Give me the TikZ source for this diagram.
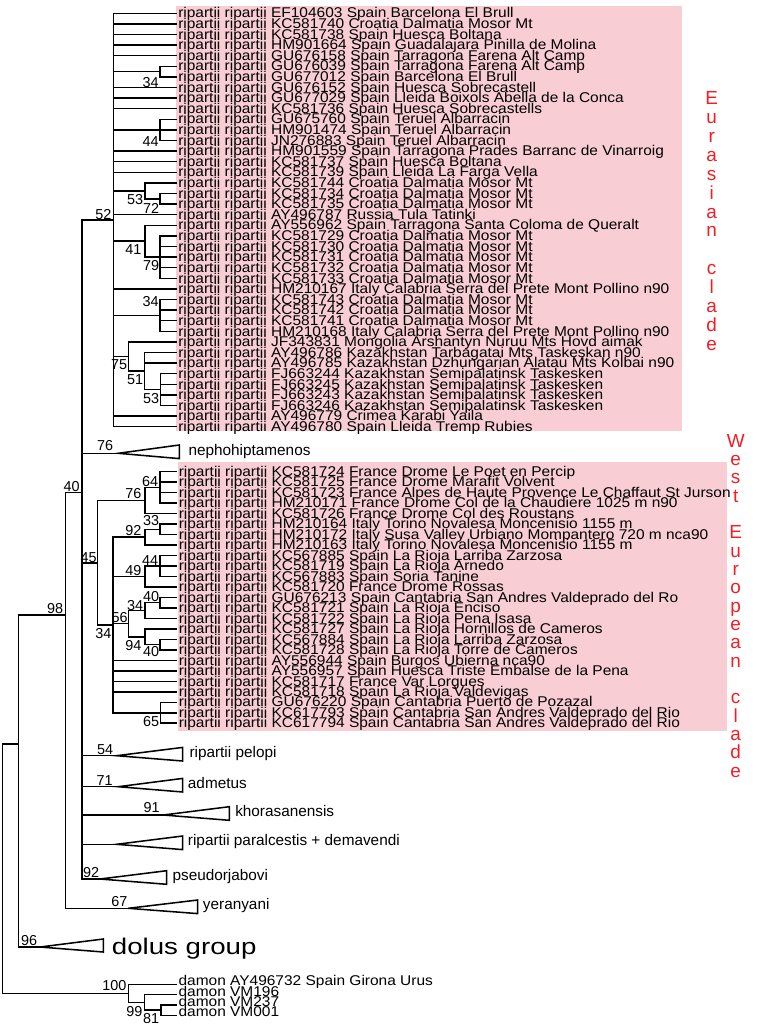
\documentclass[tikz,border=0pt]{standalone}
\usepackage{fontspec}
\setmainfont{Liberation Sans}
\usepackage{graphicx}
\definecolor{hl}{RGB}{248,205,211}
\definecolor{cladered}{RGB}{242,30,36}
\newcommand\tiptext[1]{\scalebox{1.095}[1]{ripartii ripartii #1}}
\newcommand\damtext[1]{\scalebox{1.095}[1]{damon #1}}
\begin{document}
\begin{tikzpicture}[x=0.75pt,y=-0.75pt,
  br/.style={line width=1.15pt, line cap=rect},
  tri/.style={line width=1.15pt, line join=miter},
  tip/.style={anchor=base west, inner sep=0pt, font=\fontsize{10.6}{10.6}\selectfont},
  bs/.style={anchor=base east, inner sep=0pt, font=\fontsize{10.8}{10.8}\selectfont},
  cl/.style={anchor=base west, inner sep=0pt, font=\fontsize{11.5}{11.5}\selectfont},
  letE/.style={anchor=base, inner sep=0pt, text=cladered, font=\fontsize{14.2}{14.2}\selectfont}]
\useasboundingbox (0,0) rectangle (756,1030);
% highlight boxes
\fill[hl] (176,6) rectangle (682,430.5);
\fill[hl] (178,462) rectangle (727,731);
% internal nodes
\coordinate (root) at (2.3,744);
\coordinate (nA) at (18.3,744);
\coordinate (n98) at (65.7,615);
\coordinate (n40) at (82,492.3);
\coordinate (P) at (113.3,220);
\coordinate (n34a) at (160,71.6);
\coordinate (n44a) at (160,129.9);
\coordinate (n53) at (145,190.85);
\coordinate (n72) at (160,198.8);
\coordinate (n41) at (145,241.2);
\coordinate (n79) at (160,257.1);
\coordinate (n34b) at (160,315.4);
\coordinate (n75) at (128.3,356.5);
\coordinate (n51) at (144.3,371.05);
\coordinate (n53b) at (160.7,389.6);
\coordinate (n45) at (97.3,562.75);
\coordinate (n76w) at (145,500.52);
\coordinate (n64) at (160,487.42);
\coordinate (n34w) at (113,624.97);
\coordinate (n92w) at (145,537.2);
\coordinate (n33) at (160,529.34);
\coordinate (n49) at (145,576.5);
\coordinate (n44w) at (160,566.02);
\coordinate (n56) at (128.3,623.66);
\coordinate (n34c) at (145,610.56);
\coordinate (n40a) at (160,602.7);
\coordinate (n94) at (145,636.76);
\coordinate (n40b) at (160,644.62);
\coordinate (n65) at (160.7,712.74);
\coordinate (n100) at (128.7,993.35);
\coordinate (n99) at (144.3,1002.4);
\coordinate (n81) at (161,1010.15);
% collapsed clade apexes
\coordinate (aneph) at (118.3,453.3);
\coordinate (apel) at (116.7,755.7);
\coordinate (aadm) at (118.3,786.7);
\coordinate (akho) at (163.3,815);
\coordinate (apar) at (116.7,844.3);
\coordinate (apse) at (100,879);
\coordinate (ayer) at (128.3,908.3);
\coordinate (adol) at (40,947);
% backbone edges
\draw[br] (root) -- (nA);
\draw[br] (root) |- (n100);
\draw[br] (nA) |- (n98);
\draw[br] (nA) |- (adol);
\draw[br] (n98) |- (n40);
\draw[br] (n98) |- (ayer);
\draw[br] (n40) |- (P);
\draw[br] (n40) |- (aneph);
\draw[br] (n40) |- (n45);
\draw[br] (n40) |- (apel);
\draw[br] (n40) |- (aadm);
\draw[br] (n40) |- (akho);
\draw[br] (n40) |- (apar);
\draw[br] (n40) |- (apse);
% Eurasian internal edges
\foreach \a/\b in {P/n34a,P/n44a,P/n53,n53/n72,P/n41,n41/n79,P/n34b,P/n75,n75/n51,n51/n53b}
  \draw[br] (\a) |- (\b);
% West internal edges
\foreach \a/\b in {n45/n76w,n76w/n64,n45/n34w,n34w/n92w,n92w/n33,n34w/n49,n49/n44w,n34w/n56,n56/n34c,n34c/n40a,n56/n94,n94/n40b,n34w/n65}
  \draw[br] (\a) |- (\b);
% damon edges
\draw[br] (n100) |- (n99);
\draw[br] (n99) |- (n81);
% Eurasian leaves
\foreach \i/\p/\t in {
1/P/EF104603 Spain Barcelona El Brull,
2/P/KC581740 Croatia Dalmatia Mosor Mt,
3/P/KC581738 Spain Huesca Boltana,
4/P/HM901664 Spain Guadalajara Pinilla de Molina,
5/P/GU676158 Spain Tarragona Farena Alt Camp,
6/n34a/GU676039 Spain Tarragona Farena Alt Camp,
7/n34a/GU677012 Spain Barcelona El Brull,
8/P/GU676152 Spain Huesca Sobrecastell,
9/P/GU677029 Spain Lleida Boixols Abella de la Conca,
10/P/KC581736 Spain Huesca Sobrecastells,
11/n44a/GU675760 Spain Teruel Albarracin,
12/n44a/HM901474 Spain Teruel Albarracin,
13/n44a/JN276883 Spain Teruel Albarracin,
14/P/HM901559 Spain Tarragona Prades Barranc de Vinarroig,
15/P/KC581737 Spain Huesca Boltana,
16/P/KC581739 Spain Lleida La Farga Vella,
17/n53/KC581744 Croatia Dalmatia Mosor Mt,
18/n72/KC581734 Croatia Dalmatia Mosor Mt,
19/n72/KC581735 Croatia Dalmatia Mosor Mt,
20/P/AY496787 Russia Tula Tatinki,
21/n41/AY556962 Spain Tarragona Santa Coloma de Queralt,
22/n79/KC581729 Croatia Dalmatia Mosor Mt,
23/n79/KC581730 Croatia Dalmatia Mosor Mt,
24/n79/KC581731 Croatia Dalmatia Mosor Mt,
25/n79/KC581732 Croatia Dalmatia Mosor Mt,
26/n79/KC581733 Croatia Dalmatia Mosor Mt,
27/P/HM210167 Italy Calabria Serra del Prete Mont Pollino n90,
28/n34b/KC581743 Croatia Dalmatia Mosor Mt,
29/n34b/KC581742 Croatia Dalmatia Mosor Mt,
30/n34b/KC581741 Croatia Dalmatia Mosor Mt,
31/n34b/HM210168 Italy Calabria Serra del Prete Mont Pollino n90,
32/n75/JF343831 Mongolia Arshantyn Nuruu Mts Hovd aimak,
33/n51/AY496786 Kazakhstan Tarbagatai Mts Taskeskan n90,
34/n51/AY496785 Kazakhstan Dzhungarian Alatau Mts Kolbai n90,
35/n53b/FJ663244 Kazakhstan Semipalatinsk Taskesken,
36/n53b/FJ663245 Kazakhstan Semipalatinsk Taskesken,
37/n53b/FJ663243 Kazakhstan Semipalatinsk Taskesken,
38/n53b/FJ663246 Kazakhstan Semipalatinsk Taskesken,
39/P/AY496779 Crimea Karabi Yaila,
40/P/AY496780 Spain Lleida Tremp Rubies}{
  \coordinate (e\i) at (176.7,{13.3+(\i-1)*10.6});
  \draw[br] (\p) |- (e\i);
  \node[tip] (te\i) at (178,{13.3+(\i-1)*10.6+4.7}) {\tiptext{\t}};
}
% West European leaves
\foreach \i/\p/\t in {
1/n64/KC581724 France Drome Le Poet en Percip,
2/n64/KC581725 France Drome Marafit Volvent,
3/n64/KC581723 France Alpes de Haute Provence Le Chaffaut St Jurson,
4/n64/HM210171 France Drome Col de la Chaudiere 1025 m n90,
5/n76w/KC581726 France Drome Col des Roustans,
6/n33/HM210164 Italy Torino Novalesa Moncenisio 1155 m,
7/n33/HM210172 Italy Susa Valley Urbiano Mompantero 720 m nca90,
8/n92w/HM210163 Italy Torino Novalesa Moncenisio 1155 m,
9/n44w/KC567885 Spain La Rioja Larriba Zarzosa,
10/n44w/KC581719 Spain La Rioja Arnedo,
11/n44w/KC567883 Spain Soria Tanine,
12/n49/KC581720 France Drome Rossas,
13/n40a/GU676213 Spain Cantabria San Andres Valdeprado del Ro,
14/n40a/KC581721 Spain La Rioja Enciso,
15/n34c/KC581722 Spain La Rioja Pena Isasa,
16/n94/KC581727 Spain La Rioja Hornillos de Cameros,
17/n40b/KC567884 Spain La Rioja Larriba Zarzosa,
18/n40b/KC581728 Spain La Rioja Torre de Cameros,
19/n34w/AY556944 Spain Burgos Ubierna nca90,
20/n34w/AY556957 Spain Huesca Triste Embalse de la Pena,
21/n34w/KC581717 France Var Lorgues,
22/n34w/KC581718 Spain La Rioja Valdevigas,
23/n65/GU676220 Spain Cantabria Puerto de Pozazal,
24/n65/KC617793 Spain Cantabria San Andres Valdeprado del Rio,
25/n65/KC617794 Spain Cantabria San Andres Valdeprado del Rio}{
  \coordinate (w\i) at (176.7,{471.7+(\i-1)*10.48});
  \draw[br] (\p) |- (w\i);
  \node[tip] (tw\i) at (178.5,{471.7+(\i-1)*10.48+4.7}) {\tiptext{\t}};
}
% damon leaves
\foreach \i/\p/\y/\t in {1/n100/984.3/AY496732 Spain Girona Urus,2/n99/994.7/VM196,3/n81/1005/VM237,4/n81/1015.3/VM001}{
  \coordinate (d\i) at (176.7,\y);
  \draw[br] (\p) |- (d\i);
  \node[tip] (td\i) at (178.3,\y+1.5) {\damtext{\t}};
}
% collapsed clades
\draw[tri] (aneph) -- (179.3,445) -- (179.3,458.6) -- cycle;
\draw[tri] (apel) -- (182.7,747.4) -- (182.7,761) -- cycle;
\draw[tri] (aadm) -- (182.7,778.4) -- (182.7,792) -- cycle;
\draw[tri] (akho) -- (229.3,806.7) -- (229.3,820.3) -- cycle;
\draw[tri] (apar) -- (182.7,836) -- (182.7,849.6) -- cycle;
\draw[tri] (apse) -- (166.7,870.7) -- (166.7,884.3) -- cycle;
\draw[tri] (ayer) -- (197.7,900) -- (197.7,913.6) -- cycle;
\draw[tri] (adol) -- (103.3,939) -- (103.3,952) -- cycle;
\node[cl] (lneph) at (188.3,455) {nephohiptamenos};
\node[cl] (lpel) at (189.3,757.2) {ripartii pelopi};
\node[cl] (ladm) at (187.7,788.2) {admetus};
\node[cl] (lkho) at (235,816.5) {khorasanensis};
\node[cl] (lpar) at (187.7,845.8) {ripartii paralcestis + demavendi};
\node[cl] (lpse) at (172.3,880.5) {pseudorjabovi};
\node[cl] (lyer) at (202.7,909.8) {yeranyani};
\node[anchor=base west, inner sep=0pt, font=\fontsize{17}{17}\selectfont] (ldol) at (111.7,954.5) {\scalebox{1.22}[1]{dolus group}};
% support values
\foreach \x/\y/\t [count=\c] in {
159/87.3/34, 159/146.7/44, 143.3/205/53, 159.3/214/72, 111.7/220/52,
141.7/255/41, 159.3/270.7/79, 159/306.7/34, 127.5/369/75, 143.3/384.5/51,
159.5/403/53, 80/491.7/40, 113.3/450.7/76, 158.3/486/64, 141.7/498/76,
159.3/525/33, 141.7/535/92, 96.8/562.7/45, 158.3/565/44, 141.7/575/49,
159.5/601/40, 143.3/610/34, 127.8/622/56, 111.7/638/34, 141.7/650/94,
159.5/656.7/40, 63.3/613/98, 159.5/726.7/65, 113.3/754/54, 113/785/71,
160/812.7/91, 99.3/877.3/92, 127.7/906.7/67, 37.3/945/96,
126.7/990/100, 142.7/1016.7/99, 159.3/1023/81}
  \node[bs] (bs\c) at (\x,\y) {\t};
% clade names
\foreach \ch/\k in {E/0,u/1,r/2,a/3,s/4,i/5,a/6,n/7,c/9,l/10,a/11,d/12,e/13}
  \node[letE] (eu\k) at (711.7,{105+\k*18.85}) {\ch};
\foreach \ch/\k in {W/0,e/1,s/2,t/3,E/5,u/6,r/7,o/8,p/9,e/10,a/11,n/12,c/14,l/15,a/16,d/17,e/18}
  \node[letE] (we\k) at (735.7,{447+\k*18.35}) {\ch};
\end{tikzpicture}
\end{document}
